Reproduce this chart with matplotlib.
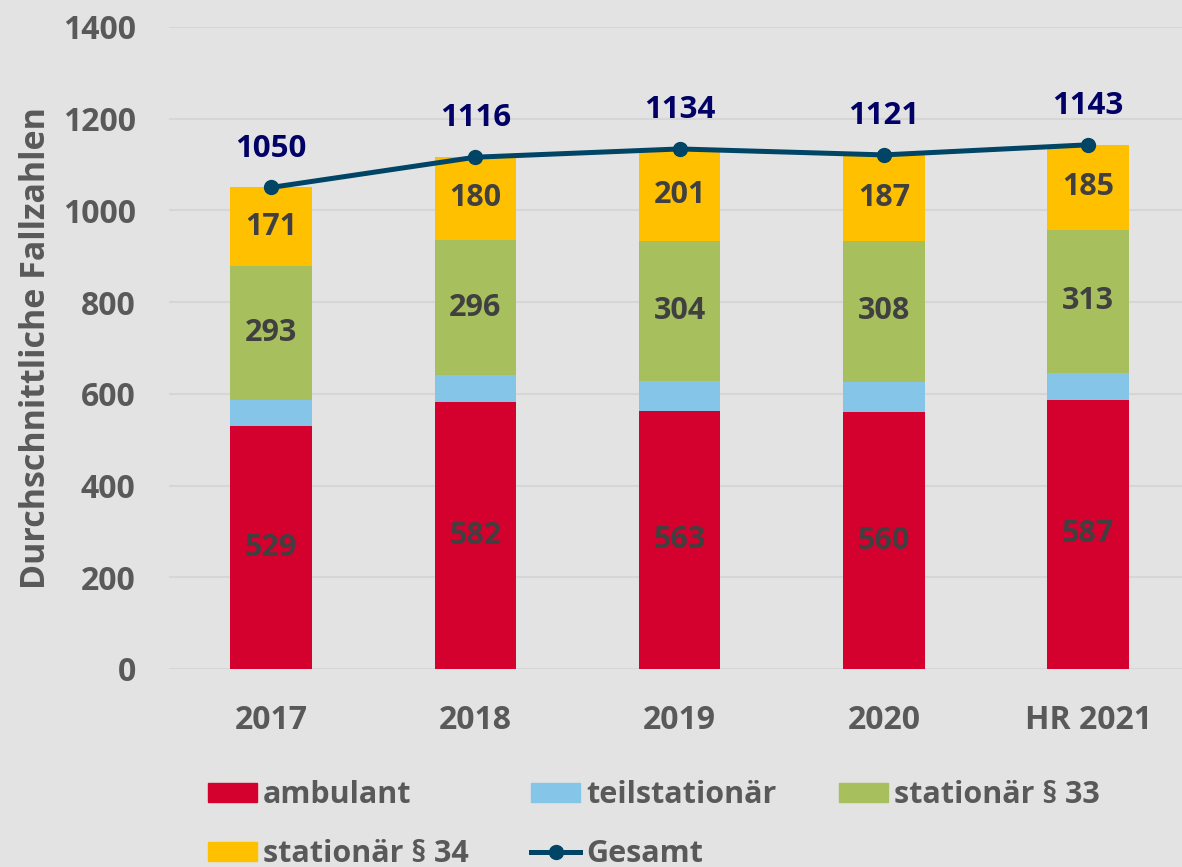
import numpy as np
import matplotlib.pyplot as plt
from matplotlib.lines import Line2D
from matplotlib.patches import Patch

# data
years = ["2017", "2018", "2019", "2020", "HR 2021"]
ambulant = [529, 582, 563, 560, 587]
teilstationaer = [57, 58, 66, 66, 58]
stationaer_33 = [293, 296, 304, 308, 313]
stationaer_34 = [171, 180, 201, 187, 185]
gesamt = [1050, 1116, 1134, 1121, 1143]

BG = "#E3E3E3"
TXT = "#595959"
LBL = "#404040"
COLORS = ["#D4002E", "#85C6E8", "#A8BF5E", "#FFC000"]
LINE_C = "#004466"
TOTAL_C = "#000066"
W = "bold"

plt.rcParams["font.family"] = ["Open Sans", "DejaVu Sans"]

fig = plt.figure(figsize=(11.82, 8.67), dpi=100, facecolor=BG)
ax = fig.add_axes([0.143, 0.2284, 0.857, 0.7405], facecolor=BG)

x = np.arange(len(years))
series = [ambulant, teilstationaer, stationaer_33, stationaer_34]
names = ["ambulant", "teilstationär", "stationär § 33", "stationär § 34"]
bottom = np.zeros(len(years))
for vals, col, name in zip(series, COLORS, names):
    vals = np.array(vals)
    ax.bar(x, vals, width=0.4, bottom=bottom, color=col, zorder=2, label=name)
    if name != "teilstationär":
        for xi, b, v in zip(x, bottom, vals):
            ax.text(xi, b + v / 2, str(v), ha="center", va="center",
                    fontsize=22, fontweight=W, color=LBL, zorder=4)
    bottom += vals

ax.plot(x, gesamt, color=LINE_C, lw=3.6, marker="o", markersize=10, zorder=3)
for xi, v in zip(x, gesamt):
    ax.annotate(str(v), (xi, v), xytext=(0, 28), textcoords="offset points",
                ha="center", va="center", fontsize=22.5, fontweight=W,
                color=TOTAL_C, zorder=4)

ax.set_ylim(0, 1400)
ax.set_yticks(range(0, 1401, 200))
ax.set_xlim(-0.5, 4.46)
ax.set_xticks(x)
ax.set_xticklabels(years)
ax.grid(axis="y", color="#D6D6D6", lw=1.5, zorder=0)
for s in ax.spines.values():
    s.set_visible(False)
ax.tick_params(length=0, labelsize=23, labelcolor=TXT)
ax.tick_params(axis="y", pad=24)
ax.tick_params(axis="x", pad=25)
for t in ax.get_xticklabels() + ax.get_yticklabels():
    t.set_fontweight(W)
ax.set_ylabel("Durchschnittliche Fallzahlen", fontsize=24.5, color=TXT,
              fontweight=W)
ax.yaxis.set_label_coords(-0.115, 0.5)

handles = [Patch(color=c) for c in COLORS]
line_h = Line2D([], [], color=LINE_C, lw=3.6, marker="o", markersize=10)
# reorder so the legend fills row-wise
order_h = [handles[0], handles[3], handles[1], line_h, handles[2]]
order_l = [names[0], names[3], names[1], "Gesamt", names[2]]
fig.legend(order_h, order_l, ncol=3, loc="upper left",
           bbox_to_anchor=(0.176, 0.1), frameon=False,
           fontsize=22, labelcolor=TXT, handlelength=1.6, handleheight=0.62,
           handletextpad=0.2, columnspacing=2.05, labelspacing=0.95,
           borderaxespad=0, borderpad=0)
for t in fig.legends[0].get_texts():
    t.set_fontweight(W)

fig.savefig("out.png", dpi=100, facecolor=BG)
